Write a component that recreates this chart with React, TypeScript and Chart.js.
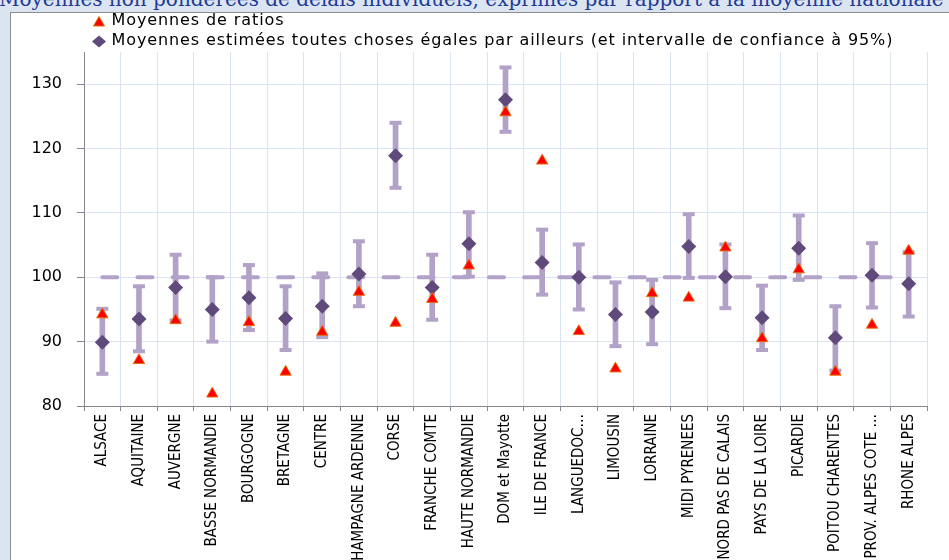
import React, { useEffect, useRef } from 'react';
import { Chart, registerables } from 'chart.js';

Chart.register(...registerables);

const categories = [
  'ALSACE', 'AQUITAINE', 'AUVERGNE', 'BASSE NORMANDIE', 'BOURGOGNE', 'BRETAGNE', 'CENTRE',
  'CHAMPAGNE ARDENNE', 'CORSE', 'FRANCHE COMTE', 'HAUTE NORMANDIE', 'DOM et Mayotte',
  'ILE DE FRANCE', 'LANGUEDOC…', 'LIMOUSIN', 'LORRAINE', 'MIDI PYRENEES', 'NORD PAS DE CALAIS',
  'PAYS DE LA LOIRE', 'PICARDIE', 'POITOU CHARENTES', 'PROV. ALPES COTE …', 'RHONE ALPES',
];

const ratioMeans = [94.2, 87.1, 93.3, 81.9, 93.0, 85.3, 91.5, 97.7, 92.9, 96.6, 101.8, 125.6, 118.1, 91.6, 85.8, 97.5, 96.8, 104.6, 90.5, 101.2, 85.3, 92.6, 104.1];
const estimates = [89.9, 93.5, 98.4, 95.0, 96.8, 93.6, 95.5, 100.5, 118.9, 98.4, 105.2, 127.6, 102.3, 100.0, 94.2, 94.6, 104.8, 100.1, 93.7, 104.5, 90.6, 100.3, 99.0];
const ciLow = [85.0, 88.5, 93.3, 90.0, 91.8, 88.7, 90.7, 95.5, 113.9, 93.4, 100.1, 122.6, 97.3, 95.0, 89.3, 89.6, 99.9, 95.2, 88.7, 99.6, 85.5, 95.3, 93.9];
const ciHigh = [95.1, 98.6, 103.5, 100.0, 101.9, 98.6, 100.6, 105.6, 124.0, 103.5, 110.1, 132.6, 107.4, 105.1, 99.2, 99.6, 109.8, 105.1, 98.7, 109.6, 95.5, 105.3, 103.9];
const reference = [100, 100, 100, 100, 100, 100, 100, 100, 100, 100, 100, 100, 100, 100, 100, 100, 100, 100, 100, 100, 100, 100, 100];

const legendLabels = [
  'Moyennes de ratios',
  'Moyennes estimées toutes choses égales par ailleurs (et intervalle de confiance à 95%)',
];

const TITLE = 'Moyennes non pondérées de délais individuels, exprimés par rapport à la moyenne nationale';

const PURPLE_LIGHT = '#b3a2c7';
const PURPLE_DARK = '#604a7b';
const RED = '#ff0000';
const ORANGE = '#e46c0a';
const GRID = '#d9e3f2';
const AXIS = '#868686';

export default function App() {
  const ref = useRef<HTMLCanvasElement>(null);

  useEffect(() => {
    const canvas = ref.current;
    if (!canvas) return;

    const legendPlugin = {
      id: 'customLegend',
      afterDraw(chart: any) {
        const ctx = chart.ctx;
        ctx.save();
        // triangle
        const tx = 88, ty = 9;
        ctx.beginPath();
        ctx.moveTo(tx, ty - 5.5);
        ctx.lineTo(tx + 5.5, ty + 4);
        ctx.lineTo(tx - 5.5, ty + 4);
        ctx.closePath();
        ctx.fillStyle = RED;
        ctx.fill();
        ctx.strokeStyle = ORANGE;
        ctx.lineWidth = 1;
        ctx.stroke();
        // diamond
        const dx = 88, dy = 28.5;
        ctx.beginPath();
        ctx.moveTo(dx, dy - 6);
        ctx.lineTo(dx + 7, dy);
        ctx.lineTo(dx, dy + 6);
        ctx.lineTo(dx - 7, dy);
        ctx.closePath();
        ctx.fillStyle = PURPLE_DARK;
        ctx.fill();
        ctx.fillStyle = '#000';
        ctx.font = '16px "DejaVu Sans"';
        try { (ctx as any).letterSpacing = '0.9px'; } catch (e) { /* ignore */ }
        ctx.textBaseline = 'middle';
        ctx.textAlign = 'left';
        ctx.fillText(legendLabels[0], 100.5, 8);
        ctx.fillText(legendLabels[1], 100.5, 28);
        ctx.restore();
      },
    };

    const chart = new Chart(canvas, {
      type: 'bar',
      data: {
        labels: categories,
        datasets: [
          {
            type: 'line',
            label: legendLabels[0],
            data: ratioMeans,
            showLine: false,
            pointStyle: 'triangle',
            pointRadius: 6.5,
            pointBackgroundColor: RED,
            pointBorderColor: ORANGE,
            pointBorderWidth: 1,
          } as any,
          {
            type: 'line',
            label: legendLabels[1],
            data: estimates,
            showLine: false,
            pointStyle: 'rectRot',
            pointRadius: 7.5,
            pointBackgroundColor: PURPLE_DARK,
            pointBorderColor: PURPLE_DARK,
            pointBorderWidth: 0,
          } as any,
          {
            type: 'line',
            label: 'ciHighCap',
            data: ciHigh,
            showLine: false,
            pointStyle: 'line',
            pointRadius: 6,
            pointBorderWidth: 4,
            pointBorderColor: PURPLE_LIGHT,
          } as any,
          {
            type: 'line',
            label: 'ciLowCap',
            data: ciLow,
            showLine: false,
            pointStyle: 'line',
            pointRadius: 6,
            pointBorderWidth: 4,
            pointBorderColor: PURPLE_LIGHT,
          } as any,
          {
            type: 'bar',
            label: 'ci',
            data: ciLow.map((l, i) => [l, ciHigh[i]]),
            backgroundColor: PURPLE_LIGHT,
            barThickness: 5,
            borderWidth: 0,
          } as any,
          {
            type: 'line',
            label: 'ref',
            data: reference,
            borderColor: PURPLE_LIGHT,
            borderWidth: 4,
            borderDash: [15, 20.15],
            borderCapStyle: 'round',
            pointRadius: 0,
            fill: false,
          } as any,
        ],
      },
      options: {
        responsive: false,
        animation: false,
        events: [],
        layout: { padding: { top: 39, right: 22, left: 0, bottom: 0 } },
        plugins: {
          legend: { display: false },
          tooltip: { enabled: false },
          title: { display: false },
        },
        scales: {
          x: {
            offset: true,
            grid: {
              offset: true,
              color: GRID,
              lineWidth: 1,
              drawTicks: true,
              tickLength: 5,
              tickColor: AXIS,
            },
            border: { display: true, color: AXIS, width: 1 },
            ticks: {
              autoSkip: false,
              maxRotation: 90,
              minRotation: 90,
              padding: 3,
              color: '#000',
              font: { family: '"Liberation Sans Narrow", "DejaVu Sans Condensed", sans-serif', size: 15 },
            },
            afterFit(scale: any) {
              scale.height = 154;
            },
          },
          y: {
            min: 80,
            max: 135,
            grid: {
              color: GRID,
              lineWidth: 1,
              drawTicks: true,
              tickLength: 7,
              tickColor: AXIS,
            },
            border: { display: true, color: AXIS, width: 1 },
            ticks: {
              stepSize: 10,
              includeBounds: false,
              padding: 15,
              color: '#000',
              font: { family: '"DejaVu Sans"', size: 16 },
            },
            afterFit(scale: any) {
              scale.width = 73;
            },
          },
        },
      } as any,
      plugins: [legendPlugin],
    });

    return () => chart.destroy();
  }, []);

  return (
    <div
      style={{
        position: 'fixed',
        left: 0,
        top: 0,
        width: 949,
        height: 560,
        background: '#dbe5f1',
        overflow: 'hidden',
      }}
    >
      <div
        style={{
          position: 'absolute',
          left: -1,
          top: -11,
          whiteSpace: 'nowrap',
          fontFamily: '"DejaVu Serif", serif',
          fontSize: 20,
          lineHeight: '20px',
          color: '#1f3a96',
        }}
      >
        {TITLE}
      </div>
      <div
        style={{
          position: 'absolute',
          left: 10,
          top: 12,
          width: 960,
          height: 560,
          background: '#ffffff',
          border: '1px solid #8c8c8c',
        }}
      >
        <canvas ref={ref} width={938} height={547} style={{ display: 'block', width: 938, height: 547 }} />
      </div>
    </div>
  );
}
